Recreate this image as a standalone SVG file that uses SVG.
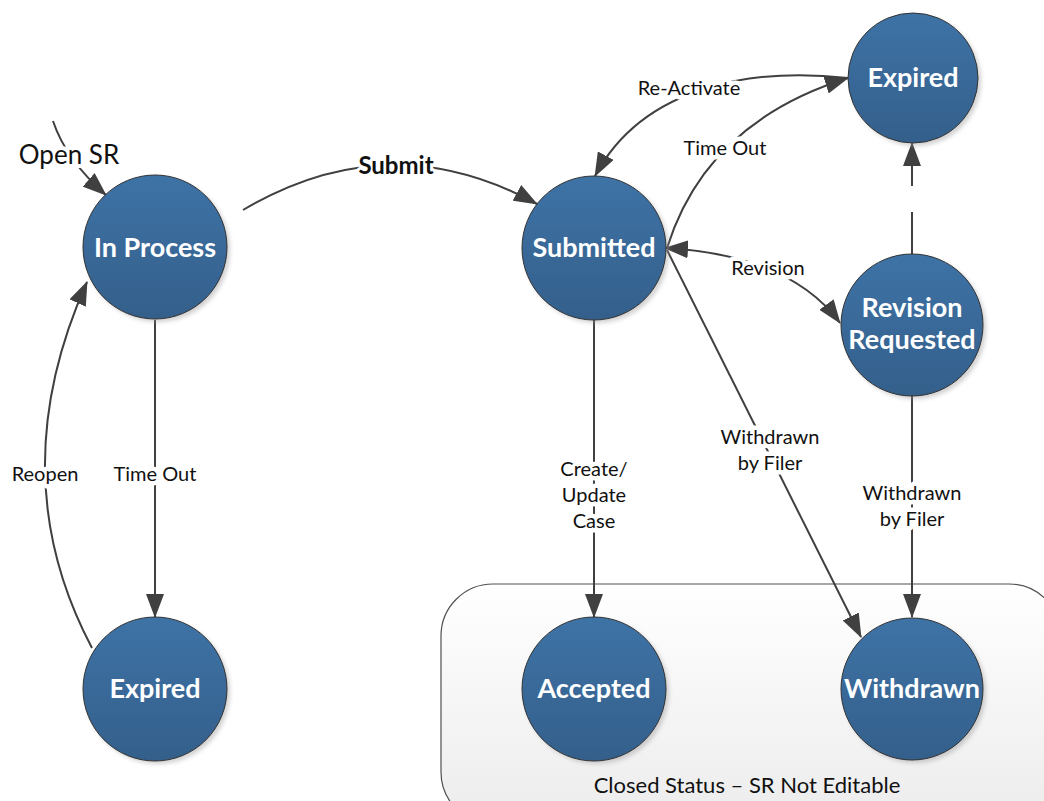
<svg xmlns="http://www.w3.org/2000/svg" width="1044" height="801" viewBox="0 0 1044 801">
<style>
.node{fill:url(#gBlue);stroke:#333;stroke-width:1}
.shadow{fill:#999;opacity:.45;filter:url(#blur)}
.nt{font-family:Lato,"Open Sans",sans-serif;font-weight:bold;font-size:27px;fill:#fff;text-anchor:middle}
.edge{fill:none;stroke:#404040;stroke-width:2}
.lbl{font-family:Lato,"Open Sans",sans-serif;font-size:20px;fill:#111;text-anchor:middle;paint-order:stroke;stroke:#fff;stroke-width:9px;stroke-linejoin:round}
</style>
<defs>
<linearGradient id="gBlue" x1="0" y1="0" x2="0" y2="1">
<stop offset="0" stop-color="#3e73a6"/>
<stop offset="1" stop-color="#345f8b"/>
</linearGradient>
<linearGradient id="gBox" x1="0" y1="0" x2="0" y2="1">
<stop offset="0" stop-color="#ffffff"/>
<stop offset="1" stop-color="#ececec"/>
</linearGradient>
<filter id="blur" x="-20%" y="-20%" width="140%" height="140%"><feGaussianBlur stdDeviation="2"/></filter>
<marker id="arr" markerUnits="userSpaceOnUse" markerWidth="26" markerHeight="18" refX="23" refY="9" orient="auto-start-reverse" viewBox="0 0 26 18">
<path d="M0,0 L24,9 L0,18 z" fill="#404040"/>
</marker>
</defs>

<g id="closed-status">
<rect x="441" y="584" width="620" height="240" rx="52" fill="url(#gBox)" stroke="#505050" stroke-width="1.2"/>
<text x="747" y="793" style="font-family:Lato,'Open Sans',sans-serif;font-size:22px;fill:#111;text-anchor:middle">Closed Status – SR Not Editable</text>
</g>

<g id="connectors">
<path class="edge" d="M53,121 Q 66,160 106,195" marker-end="url(#arr)"/>
<path class="edge" d="M243,210 Q 390,123 537,204" marker-end="url(#arr)"/>
<path class="edge" d="M155,320 L155,617" marker-end="url(#arr)"/>
<path class="edge" d="M92,648 Q 0.5,475 87,282" marker-end="url(#arr)"/>
<path class="edge" d="M594,320 L594,617" marker-end="url(#arr)"/>
<path class="edge" d="M667,250 L861,637" marker-end="url(#arr)"/>
<path class="edge" d="M912,396 L912,617" marker-end="url(#arr)"/>
<path class="edge" d="M912,254 L912,212"/>
<path class="edge" d="M912,186 L912,143" marker-end="url(#arr)"/>
<path class="edge" d="M848,78 C 760,68 645,82 595,176" marker-end="url(#arr)"/>
<path class="edge" d="M667,248 C 682,200 720,118 848,78" marker-end="url(#arr)"/>
<path class="edge" d="M665,248 Q 790,255 840,323" marker-start="url(#arr)" marker-end="url(#arr)"/>
<text x="69" y="164" style="font-family:Lato,'Open Sans',sans-serif;font-size:26px;fill:#111;text-anchor:middle;paint-order:stroke;stroke:#fff;stroke-width:8px">Open SR</text>
<text x="396" y="174" style="font-family:Lato,'Open Sans',sans-serif;font-weight:bold;font-size:24px;fill:#111;text-anchor:middle;paint-order:stroke;stroke:#fff;stroke-width:6px">Submit</text>
<text class="lbl" x="155" y="481">Time Out</text>
<text class="lbl" x="45" y="481">Reopen</text>
<text class="lbl" x="594" y="476">Create/</text>
<text class="lbl" x="594" y="502">Update</text>
<text class="lbl" x="594" y="528">Case</text>
<text class="lbl" x="770" y="444">Withdrawn</text>
<text class="lbl" x="770" y="470">by Filer</text>
<text class="lbl" x="912" y="500">Withdrawn</text>
<text class="lbl" x="912" y="526">by Filer</text>
<text class="lbl" x="689" y="95">Re-Activate</text>
<text class="lbl" x="725" y="155">Time Out</text>
<text class="lbl" x="768" y="275">Revision</text>
</g>

<g id="in-process">
<circle class="shadow" cx="158" cy="250" r="72"/>
<circle class="node" cx="155" cy="247" r="72"/>
<text class="nt" x="155" y="257">In Process</text>
</g>
<g id="expired-left">
<circle class="shadow" cx="158" cy="692" r="72"/>
<circle class="node" cx="155" cy="689" r="72"/>
<text class="nt" x="155" y="698">Expired</text>
</g>
<g id="submitted">
<circle class="shadow" cx="597" cy="251" r="72"/>
<circle class="node" cx="594" cy="248" r="72"/>
<text class="nt" x="594" y="257">Submitted</text>
</g>
<g id="expired-top">
<circle class="shadow" cx="916" cy="81" r="65"/>
<circle class="node" cx="913" cy="78" r="65"/>
<text class="nt" x="913" y="87">Expired</text>
</g>
<g id="revision-requested">
<circle class="shadow" cx="915" cy="328" r="71"/>
<circle class="node" cx="912" cy="325" r="71"/>
<text class="nt" x="912" y="317">Revision</text>
<text class="nt" x="912" y="349">Requested</text>
</g>
<g id="accepted">
<circle class="shadow" cx="597" cy="692" r="72"/>
<circle class="node" cx="594" cy="689" r="72"/>
<text class="nt" x="594" y="698">Accepted</text>
</g>
<g id="withdrawn">
<circle class="shadow" cx="915" cy="692" r="71"/>
<circle class="node" cx="912" cy="689" r="71"/>
<text class="nt" x="912" y="698">Withdrawn</text>
</g>
</svg>
